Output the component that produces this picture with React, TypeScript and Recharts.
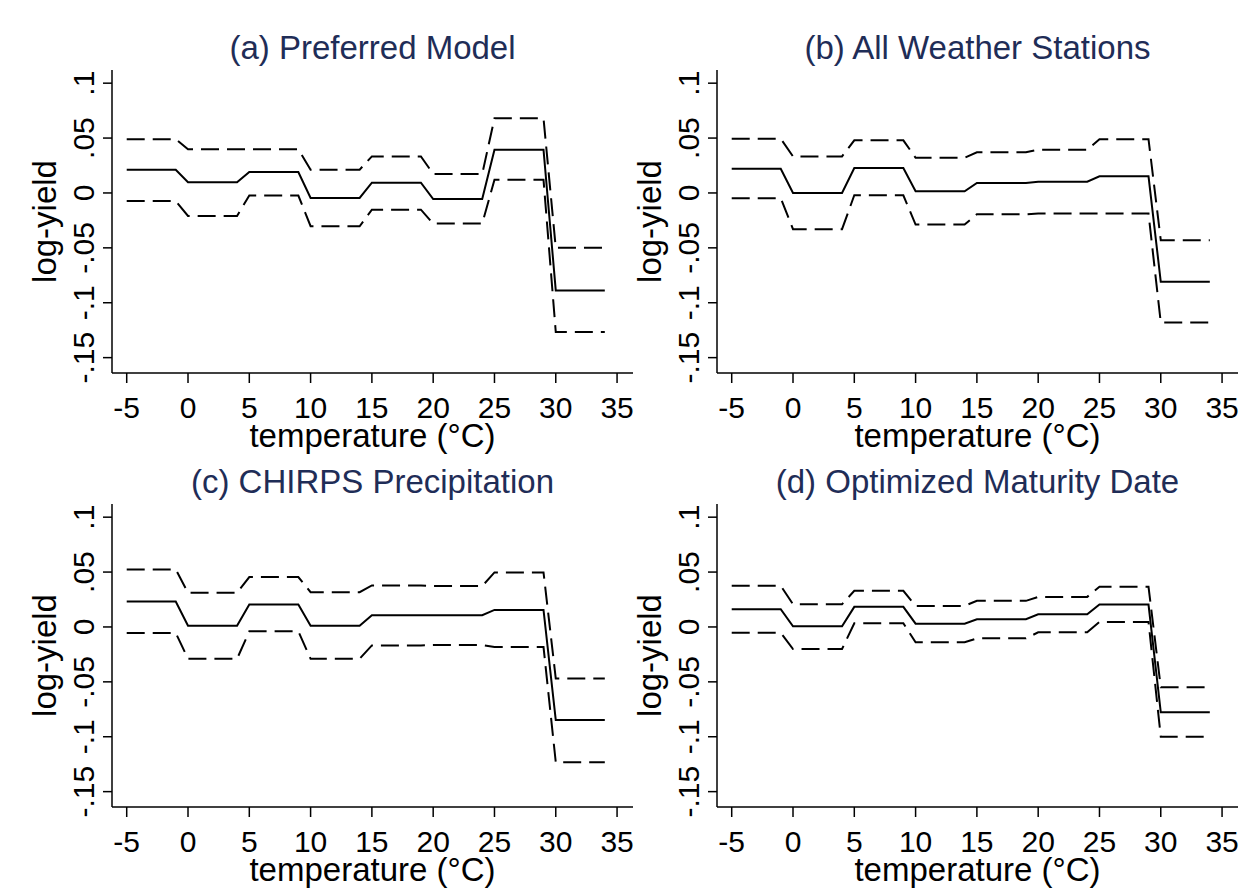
import React from 'react';
import { LineChart, Line, XAxis, YAxis } from 'recharts';

// bins of 5 degrees: each bin is flat from its first to its last whole degree
const binStart = [-5, 0, 5, 10, 15, 20, 25, 30];
const binEnd = [-1, 4, 9, 14, 19, 24, 29, 34];

const xTicks = [-5, 0, 5, 10, 15, 20, 25, 30, 35];
const yTicks = [-0.15, -0.1, -0.05, 0, 0.05, 0.1];

// (a) Preferred Model
const prefEst = [0.0212, 0.0097, 0.0191, -0.0045, 0.0094, -0.0055, 0.0394, -0.0888];
const prefUpper = [0.049, 0.0397, 0.0397, 0.0212, 0.0333, 0.0173, 0.068, -0.05];
const prefLower = [-0.0073, -0.0209, -0.0024, -0.0303, -0.0152, -0.0279, 0.0121, -0.1267];

// (b) All Weather Stations
const stationsEst = [0.0221, 0, 0.0227, 0.0015, 0.0091, 0.0103, 0.0152, -0.0809];
const stationsUpper = [0.0494, 0.0333, 0.0479, 0.0321, 0.037, 0.0394, 0.049, -0.043];
const stationsLower = [-0.0048, -0.033, -0.0021, -0.0288, -0.0194, -0.0188, -0.0188, -0.118];

// (c) CHIRPS Precipitation
const chirpsEst = [0.0232, 0.0012, 0.0204, 0.0012, 0.0107, 0.0107, 0.0155, -0.0848];
const chirpsUpper = [0.0524, 0.0311, 0.0454, 0.0317, 0.0378, 0.0372, 0.0497, -0.047];
const chirpsLower = [-0.0055, -0.029, -0.004, -0.029, -0.0168, -0.0165, -0.0183, -0.1232];

// (d) Optimized Maturity Date
const maturityEst = [0.0162, 0.0006, 0.0183, 0.003, 0.007, 0.0116, 0.0204, -0.0777];
const maturityUpper = [0.0375, 0.0207, 0.0329, 0.0192, 0.0238, 0.0274, 0.0366, -0.0549];
const maturityLower = [-0.0052, -0.0201, 0.0034, -0.014, -0.0104, -0.0049, 0.0046, -0.1];

const FONT = '"Liberation Sans", Arial, sans-serif';
const TITLE_COLOR = '#1f2d57';
const TICK_FS = 30;
const LABEL_FS = 33;

const PANEL_W = 640;
const PANEL_H = 460;
const Y_AXIS_W = 112;
const PLOT_W = 521;

const buildRows = (est: number[], upper: number[], lower: number[]) => {
  const rows: { t: number; est: number; upper: number; lower: number }[] = [];
  binStart.forEach((lo, i) => {
    rows.push({ t: lo, est: est[i], upper: upper[i], lower: lower[i] });
    rows.push({ t: binEnd[i], est: est[i], upper: upper[i], lower: lower[i] });
  });
  return rows;
};

const fmtY = (v: number) => {
  if (v === 0) return '0';
  const s = Math.abs(v).toString().replace(/^0/, '');
  return v < 0 ? '-' + s : s;
};

const XTick = (props: any) => {
  const { x, y, payload } = props;
  return (
    <text x={x} y={y + 35} textAnchor="middle" fontSize={TICK_FS} fontFamily={FONT} fill="#000">
      {payload.value}
    </text>
  );
};

const YTick = (props: any) => {
  const { x, y, payload } = props;
  const bx = x - 9;
  return (
    <text
      x={bx}
      y={y}
      textAnchor="middle"
      fontSize={TICK_FS}
      fontFamily={FONT}
      fill="#000"
      transform={`rotate(-90, ${bx}, ${y})`}
    >
      {fmtY(payload.value)}
    </text>
  );
};

const YLabel = (props: any) => {
  const vb = props.viewBox || { x: 0, y: 70, height: 304 };
  const cx = vb.x + 56;
  const cy = vb.y + vb.height / 2;
  return (
    <text x={cx} y={cy} textAnchor="middle" fontSize={LABEL_FS} fontFamily={FONT} fill="#000"
      transform={`rotate(-90, ${cx}, ${cy})`}>
      log-yield
    </text>
  );
};

const XLabel = (props: any) => {
  const vb = props.viewBox || { x: 112, y: 373, width: PLOT_W };
  return (
    <text x={vb.x + vb.width / 2} y={vb.y + 74} textAnchor="middle" fontSize={LABEL_FS} fontFamily={FONT} fill="#000">
      temperature (°C)
    </text>
  );
};

interface PanelProps {
  title: string;
  left: number;
  top: number;
  est: number[];
  upper: number[];
  lower: number[];
}

const Panel: React.FC<PanelProps> = ({ title, left, top, est, upper, lower }) => {
  const data = buildRows(est, upper, lower);
  return (
    <div style={{ position: 'absolute', left, top, width: PANEL_W, height: PANEL_H }}>
      <div
        style={{
          position: 'absolute',
          left: Y_AXIS_W,
          top: 31,
          width: PLOT_W,
          textAlign: 'center',
          fontFamily: FONT,
          fontSize: LABEL_FS,
          lineHeight: '33px',
          color: TITLE_COLOR,
          whiteSpace: 'nowrap',
        }}
      >
        {title}
      </div>
      <div style={{ position: 'absolute', left: 0, top: 0 }}>
        <LineChart
          width={PANEL_W}
          height={PANEL_H}
          data={data}
          margin={{ top: 70, right: PANEL_W - Y_AXIS_W - PLOT_W, bottom: 7, left: 0 }}
        >
          <XAxis
            dataKey="t"
            type="number"
            domain={[-6.2, 36.3]}
            ticks={xTicks}
            allowDataOverflow
            height={80}
            tickSize={10}
            tickMargin={0}
            axisLine={{ stroke: '#000', strokeWidth: 1.5 }}
            tickLine={{ stroke: '#000', strokeWidth: 1.5 }}
            tick={<XTick />}
            label={<XLabel />}
          />
          <YAxis
            type="number"
            domain={[-0.164, 0.112]}
            ticks={yTicks}
            allowDataOverflow
            width={Y_AXIS_W}
            tickSize={9}
            tickMargin={0}
            axisLine={{ stroke: '#000', strokeWidth: 1.5 }}
            tickLine={{ stroke: '#000', strokeWidth: 1.5 }}
            tick={<YTick />}
            label={<YLabel />}
          />
          <Line type="linear" dataKey="upper" stroke="#000" strokeWidth={2} strokeDasharray="18 8" dot={false} isAnimationActive={false} />
          <Line type="linear" dataKey="lower" stroke="#000" strokeWidth={2} strokeDasharray="18 8" dot={false} isAnimationActive={false} />
          <Line type="linear" dataKey="est" stroke="#000" strokeWidth={2} dot={false} isAnimationActive={false} />
        </LineChart>
      </div>
    </div>
  );
};

export default function App() {
  return (
    <div style={{ position: 'relative', width: 1253, height: 895, background: '#fff', overflow: 'hidden' }}>
      <style>{'body{margin:0}'}</style>
      <Panel title="(a) Preferred Model" left={0} top={0} est={prefEst} upper={prefUpper} lower={prefLower} />
      <Panel title="(b) All Weather Stations" left={605} top={0} est={stationsEst} upper={stationsUpper} lower={stationsLower} />
      <Panel title="(c) CHIRPS Precipitation" left={0} top={434} est={chirpsEst} upper={chirpsUpper} lower={chirpsLower} />
      <Panel title="(d) Optimized Maturity Date" left={605} top={434} est={maturityEst} upper={maturityUpper} lower={maturityLower} />
    </div>
  );
}
